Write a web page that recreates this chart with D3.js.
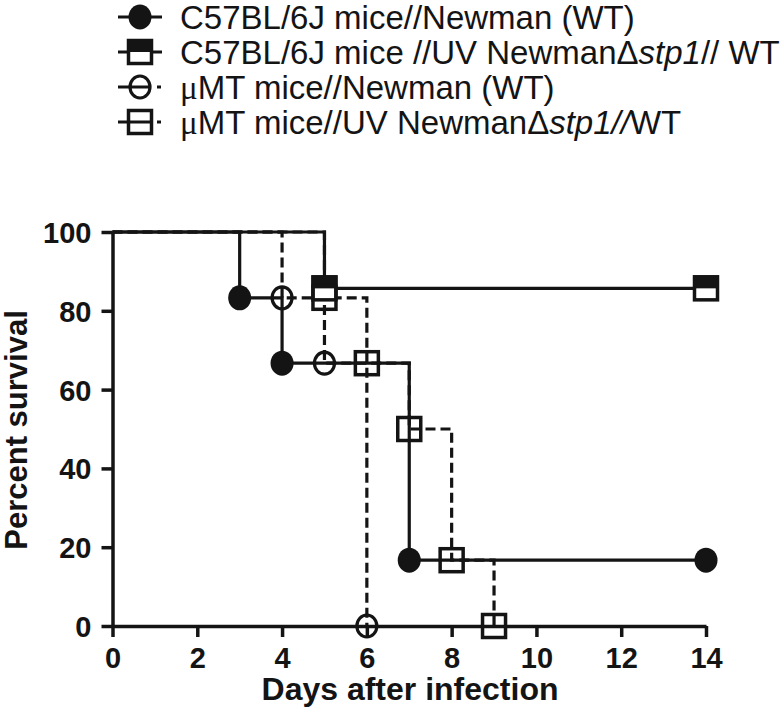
<!DOCTYPE html>
<html>
<head>
<meta charset="utf-8">
<script src="https://cdn.jsdelivr.net/npm/d3@7"></script>
<style>
  body { margin: 0; background: #fff; }
  svg { display: block; font-family: "Liberation Sans", Arial, sans-serif; }
</style>
</head>
<body>
<svg id="chart" width="780" height="720"></svg>
<script>
// survival curves (Kaplan-Meier steps), day -> percent
const days1 = [0, 3, 4, 7, 14];
const surv1 = [100, 83.3, 66.7, 16.7, 16.7];
const days2 = [0, 5, 14];
const surv2 = [100, 85.7, 85.7];
const days3 = [0, 4, 5, 6];
const surv3 = [100, 83.3, 66.7, 0];
const days4 = [0, 5, 6, 7, 8, 9];
const surv4 = [100, 83.3, 66.7, 50, 16.7, 0];

const xTicks = [0, 2, 4, 6, 8, 10, 12, 14];
const yTicks = [0, 20, 40, 60, 80, 100];

const series = [
    { days: days1, surv: surv1, symbol: "circleFilled", dashed: false },
    { days: days2, surv: surv2, symbol: "squareHalf", dashed: false },
    { days: days3, surv: surv3, symbol: "circleOpen", dashed: true },
    { days: days4, surv: surv4, symbol: "squareOpen", dashed: true }
];

const ink = "#141414";
const svg = d3.select("#chart");

const x = d3.scaleLinear().domain([0, 14]).range([112.5, 706]);
const y = d3.scaleLinear().domain([0, 100]).range([626, 232]);

// axes
const yAxis = svg.append("g")
    .attr("transform", "translate(" + x(0) + ",0)")
    .call(d3.axisLeft(y).tickValues(yTicks).tickSize(11).tickSizeOuter(0).tickPadding(10));
const xAxis = svg.append("g")
    .attr("transform", "translate(0," + y(0) + ")")
    .call(d3.axisBottom(x).tickValues(xTicks).tickSize(11).tickSizeOuter(0).tickPadding(10));

[yAxis, xAxis].forEach(function(a) {
    a.select(".domain").attr("stroke", ink).attr("stroke-width", 3.5);
    a.selectAll(".tick line").attr("stroke", ink).attr("stroke-width", 3.5);
    a.selectAll(".tick text")
        .attr("fill", ink)
        .style("font-family", "Liberation Sans, Arial, sans-serif")
        .style("font-size", "29px")
        .style("font-weight", "bold");
});
yAxis.selectAll(".tick text").attr("dy", "0.36em");
xAxis.selectAll(".tick text").attr("dy", "0.72em");

// axis titles
svg.append("text")
    .attr("transform", "translate(27,430) rotate(-90)")
    .attr("text-anchor", "middle")
    .attr("fill", ink)
    .style("font-size", "31px")
    .style("font-weight", "bold")
    .text("Percent survival");

svg.append("text")
    .attr("x", 410)
    .attr("y", 700)
    .attr("text-anchor", "middle")
    .attr("fill", ink)
    .style("font-size", "32px")
    .style("font-weight", "bold")
    .text("Days after infection");

// step lines
const line = d3.line()
    .x(function(d) { return x(d[0]); })
    .y(function(d) { return y(d[1]); })
    .curve(d3.curveStepAfter);

series.forEach(function(s) {
    const pts = s.days.map(function(d, i) { return [d, s.surv[i]]; });
    svg.append("path")
        .datum(pts)
        .attr("d", line)
        .attr("fill", "none")
        .attr("stroke", ink)
        .attr("stroke-width", 3.2)
        .attr("stroke-dasharray", s.dashed ? "10,5" : null);
});

// symbol drawing, used for plot and legend
function drawSymbol(g, kind, cx, cy) {
    if (kind === "circleFilled") {
        g.append("ellipse").attr("cx", cx).attr("cy", cy).attr("rx", 11.5).attr("ry", 12.5)
            .attr("fill", ink);
    } else if (kind === "circleOpen") {
        g.append("ellipse").attr("cx", cx).attr("cy", cy).attr("rx", 10).attr("ry", 11)
            .attr("fill", "none").attr("stroke", ink).attr("stroke-width", 3.2);
    } else if (kind === "squareOpen") {
        g.append("rect").attr("x", cx - 11.5).attr("y", cy - 11.5).attr("width", 23).attr("height", 23)
            .attr("fill", "none").attr("stroke", ink).attr("stroke-width", 3.5);
    } else if (kind === "squareHalf") {
        g.append("rect").attr("x", cx - 11.5).attr("y", cy - 11.5).attr("width", 23).attr("height", 23)
            .attr("fill", "#fff").attr("stroke", ink).attr("stroke-width", 3.5);
        g.append("rect").attr("x", cx - 13).attr("y", cy - 13).attr("width", 26).attr("height", 13)
            .attr("fill", ink);
    }
}

// markers at each death step and at the end
const markers = svg.append("g");
[1, 0, 2, 3].forEach(function(k) {
    const s = series[k];
    s.days.forEach(function(d, i) {
        if (i === 0) return;
        drawSymbol(markers, s.symbol, x(d), y(s.surv[i]));
    });
});

// legend
const legendRows = [
    { parts: [["C57BL/6J mice//Newman (WT)", ""]] },
    { parts: [["C57BL/6J mice //UV Newman\u0394", ""], ["stp1", "italic"], ["// WT", ""]] },
    { parts: [["\u03bc", "serif"], ["MT mice//Newman (WT)", ""]] },
    { parts: [["\u03bc", "serif"], ["MT mice//UV Newman\u0394", ""], ["stp1//", "italic"], ["WT", ""]] }
];
const legendY = [17, 52, 87, 122];

const legend = svg.append("g");
legendRows.forEach(function(row, i) {
    const cy = legendY[i];
    const s = series[i];
    legend.append("line")
        .attr("x1", 118).attr("x2", 162).attr("y1", cy).attr("y2", cy)
        .attr("stroke", ink).attr("stroke-width", 3.2)
        .attr("stroke-dasharray", s.dashed ? "33,6,4,10" : null);
    drawSymbol(legend, s.symbol, 140, cy);

    const t = legend.append("text")
        .attr("x", 180)
        .attr("y", cy + 12)
        .attr("fill", ink)
        .style("font-size", "33px");
    row.parts.forEach(function(p) {
        const ts = t.append("tspan").text(p[0]);
        if (p[1] === "italic") ts.style("font-style", "italic");
        if (p[1] === "serif") ts.style("font-family", "Liberation Serif, serif");
    });
});
</script>
</body>
</html>
